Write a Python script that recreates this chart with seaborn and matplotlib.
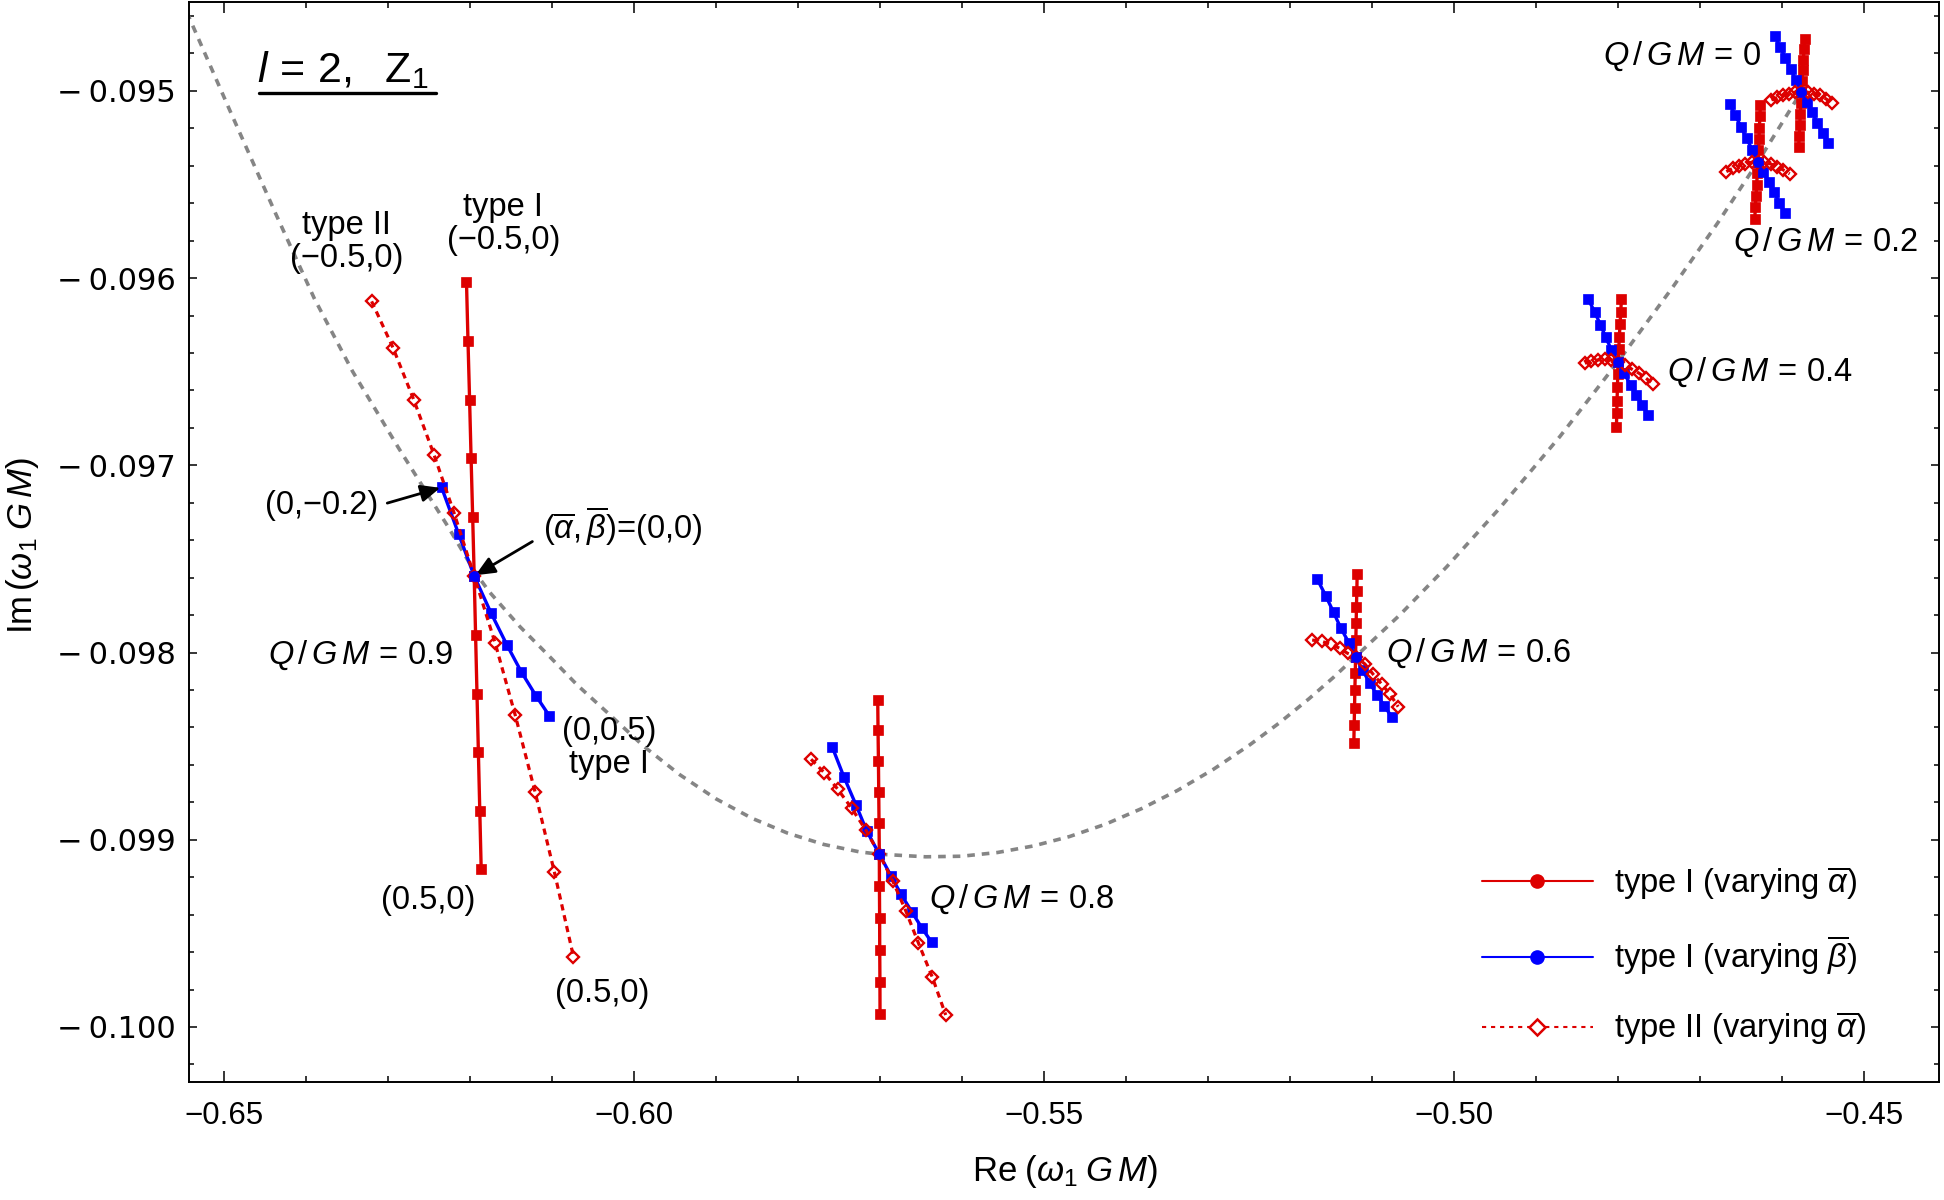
import matplotlib
matplotlib.use("Agg")
import matplotlib.pyplot as plt
from matplotlib.lines import Line2D
from matplotlib.ticker import MultipleLocator
import seaborn as sns

# ---- data (Re, Im of omega_1 GM) ----
# dotted gray track, Q/GM from ~0.97 down to 0
gray_x = [-0.6545, -0.649232, -0.643639, -0.638971, -0.634316, -0.628711, -0.622642, -0.619473,
          -0.617621, -0.613868, -0.610468, -0.606922, -0.603156, -0.598769, -0.594394, -0.590007,
          -0.585620, -0.581245, -0.576858, -0.572471, -0.570083, -0.564441, -0.560054, -0.555667,
          -0.551292, -0.546905, -0.542518, -0.538131, -0.533756, -0.529369, -0.524982, -0.521326,
          -0.517682, -0.514757, -0.512028, -0.506629, -0.500938, -0.494443, -0.487133, -0.480027,
          -0.473324, -0.467877, -0.462965, -0.457676]
gray_y = [-0.09458, -0.095107, -0.095659, -0.096108, -0.096497, -0.096906, -0.097329, -0.097564,
          -0.097676, -0.097863, -0.098013, -0.098173, -0.098324, -0.098502, -0.098653, -0.098781,
          -0.098885, -0.098965, -0.099025, -0.099065, -0.099077, -0.099091, -0.099088, -0.099068,
          -0.099033, -0.098983, -0.098917, -0.098834, -0.098737, -0.098624, -0.098495, -0.098376,
          -0.098246, -0.098134, -0.098022, -0.097799, -0.097543, -0.097228, -0.096847, -0.096446,
          -0.096046, -0.095705, -0.095378, -0.095004]

# Q/GM = 0.9
red_x_09 = [-0.620412, -0.620229, -0.620034, -0.619851, -0.619656, -0.619473, -0.619303, -0.619132,
            -0.618962, -0.618791, -0.618620]
red_y_09 = [-0.096020, -0.096336, -0.096649, -0.096963, -0.097278, -0.097591, -0.097906, -0.098221,
            -0.098533, -0.098845, -0.099158]
blue_x_09 = [-0.623447, -0.621350, -0.619473, -0.617439, -0.615489, -0.613746, -0.611955, -0.610298]
blue_y_09 = [-0.097118, -0.097369, -0.097591, -0.097787, -0.097959, -0.098102, -0.098230, -0.098339]
beta_09 = [-0.2, -0.1, 0.0, 0.1, 0.2, 0.3, 0.4, 0.5]
t2_x_09 = [-0.631977, -0.629369, -0.626846, -0.624373, -0.621911, -0.619473, -0.616915, -0.614478,
           -0.612041, -0.609689, -0.607373]
t2_y_09 = [-0.096124, -0.096372, -0.096649, -0.096943, -0.097256, -0.097591, -0.097950, -0.098333,
           -0.098746, -0.099174, -0.099624]

# Q/GM = 0.8
red_x_08 = [-0.570278, -0.570241, -0.570192, -0.570156, -0.570119, -0.570083, -0.570071, -0.570046,
            -0.570034, -0.570010, -0.569998]
red_y_08 = [-0.098253, -0.098413, -0.098579, -0.098743, -0.098912, -0.099077, -0.099247, -0.099419,
            -0.099589, -0.099758, -0.099931]
blue_x_08 = [-0.575811, -0.574385, -0.572923, -0.571619, -0.570083, -0.568658, -0.567439, -0.566135,
             -0.564916, -0.563698]
blue_y_08 = [-0.098506, -0.098666, -0.098814, -0.098953, -0.099077, -0.099193, -0.099291, -0.099384,
             -0.099470, -0.099548]
beta_08 = [-0.4, -0.3, -0.2, -0.1, 0.0, 0.1, 0.2, 0.3, 0.4, 0.5]
t2_x_08 = [-0.578406, -0.576785, -0.575152, -0.573446, -0.571740, -0.570083, -0.568450, -0.566866,
           -0.565330, -0.563624, -0.561991]
t2_y_08 = [-0.098570, -0.098642, -0.098730, -0.098832, -0.098948, -0.099077, -0.099220, -0.099379,
           -0.099550, -0.099734, -0.099936]

# Q/GM = 0.6
red_x_06 = [-0.511833, -0.511869, -0.511918, -0.511955, -0.511991, -0.512028, -0.512064, -0.512113,
            -0.512150, -0.512198, -0.512235]
red_y_06 = [-0.097580, -0.097669, -0.097755, -0.097843, -0.097933, -0.098022, -0.098111, -0.098200,
            -0.098294, -0.098387, -0.098484]
blue_x_06 = [-0.516708, -0.515647, -0.514708, -0.513819, -0.512844, -0.512028, -0.511175, -0.510285,
             -0.509395, -0.508542, -0.507640]
blue_y_06 = [-0.097607, -0.097698, -0.097785, -0.097870, -0.097947, -0.098022, -0.098093, -0.098164,
             -0.098226, -0.098284, -0.098342]
beta_06 = [-0.5, -0.4, -0.3, -0.2, -0.1, 0.0, 0.1, 0.2, 0.3, 0.4, 0.5]
t2_x_06 = [-0.517317, -0.516171, -0.515074, -0.513976, -0.513001, -0.512028, -0.510893, -0.509882,
           -0.508858, -0.507847, -0.506836]
t2_y_06 = [-0.097933, -0.097940, -0.097956, -0.097977, -0.098004, -0.098022, -0.098061, -0.098116,
           -0.098168, -0.098221, -0.098289]

# Q/GM = 0.4
red_x_04 = [-0.479612, -0.479698, -0.479783, -0.479868, -0.479941, -0.480027, -0.480063, -0.480100,
            -0.480149, -0.480185, -0.480222]
red_y_04 = [-0.096111, -0.096179, -0.096245, -0.096312, -0.096380, -0.096446, -0.096513, -0.096583,
            -0.096654, -0.096722, -0.096793]
blue_x_04 = [-0.483679, -0.482863, -0.482168, -0.481522, -0.480828, -0.480027, -0.479298, -0.478481,
             -0.477787, -0.477056, -0.476373]
blue_y_04 = [-0.096111, -0.096182, -0.096250, -0.096316, -0.096384, -0.096446, -0.096508, -0.096571,
             -0.096624, -0.096677, -0.096731]
beta_04 = [-0.5, -0.4, -0.3, -0.2, -0.1, 0.0, 0.1, 0.2, 0.3, 0.4, 0.5]
t2_x_04 = [-0.484081, -0.483270, -0.482459, -0.481648, -0.480838, -0.480027, -0.479174, -0.478321,
           -0.477468, -0.476615, -0.475762]
t2_y_04 = [-0.096454, -0.096443, -0.096437, -0.096433, -0.096437, -0.096446, -0.096464, -0.096487,
           -0.096508, -0.096535, -0.096565]

# Q/GM = 0.2
red_x_02 = [-0.462674, -0.462735, -0.462795, -0.462844, -0.462905, -0.462966, -0.463051, -0.463124,
            -0.463210, -0.463283, -0.463368]
red_y_02 = [-0.095075, -0.095135, -0.095196, -0.095256, -0.095317, -0.095378, -0.095439, -0.095500,
            -0.095561, -0.095622, -0.095684]
blue_x_02 = [-0.466423, -0.465718, -0.465035, -0.464340, -0.463658, -0.462965, -0.462319, -0.461661,
             -0.461015, -0.460357, -0.459711]
blue_y_02 = [-0.095069, -0.095131, -0.095192, -0.095254, -0.095316, -0.095378, -0.095432, -0.095487,
             -0.095541, -0.095596, -0.095650]
beta_02 = [-0.5, -0.4, -0.3, -0.2, -0.1, 0.0, 0.1, 0.2, 0.3, 0.4, 0.5]
t2_x_02 = [-0.466825, -0.466057, -0.465289, -0.464509, -0.463741, -0.462965, -0.462197, -0.461429,
           -0.460661, -0.459881, -0.459101]
t2_y_02 = [-0.095431, -0.095414, -0.095400, -0.095389, -0.095381, -0.095378, -0.095382, -0.095390,
           -0.095404, -0.095422, -0.095443]

# Q/GM = 0
red_x_00 = [-0.457275, -0.457360, -0.457433, -0.457519, -0.457592, -0.457677, -0.457738, -0.457811,
            -0.457872, -0.457945, -0.458006]
red_y_00 = [-0.094722, -0.094778, -0.094834, -0.094890, -0.094947, -0.095004, -0.095063, -0.095122,
            -0.095182, -0.095241, -0.095301]
blue_x_00 = [-0.460930, -0.460284, -0.459626, -0.458980, -0.458322, -0.457676, -0.457030, -0.456384,
             -0.455738, -0.455080, -0.454434]
blue_y_00 = [-0.094705, -0.094764, -0.094824, -0.094884, -0.094944, -0.095004, -0.095059, -0.095114,
             -0.095169, -0.095224, -0.095279]
beta_00 = [-0.5, -0.4, -0.3, -0.2, -0.1, 0.0, 0.1, 0.2, 0.3, 0.4, 0.5]
t2_x_00 = [-0.461334, -0.460603, -0.459872, -0.459140, -0.458409, -0.457676, -0.456921, -0.456165,
           -0.455410, -0.454654, -0.453898]
t2_y_00 = [-0.095048, -0.095035, -0.095023, -0.095014, -0.095007, -0.095004, -0.095007, -0.095014,
           -0.095024, -0.095043, -0.095066]

x_ticks = [-0.65, -0.60, -0.55, -0.50, -0.45]
y_ticks = [-0.095, -0.096, -0.097, -0.098, -0.099, -0.100]
legend_labels = [r"type I (varying $\overline{\alpha}$)",
                 r"type I (varying $\overline{\beta}$)",
                 r"type II (varying $\overline{\alpha}$)"]

# ---- style ----
red = "#dd0000"
blue = "#0000ff"
gray = "#858585"

sns.set_theme(style="ticks")
plt.rcParams["font.family"] = ["Liberation Sans", "DejaVu Sans"]
plt.rcParams["mathtext.fontset"] = "custom"
plt.rcParams["mathtext.rm"] = "Liberation Sans"
plt.rcParams["mathtext.it"] = "Liberation Sans:italic"
plt.rcParams["mathtext.bf"] = "Liberation Sans:bold"
plt.rcParams["lines.scale_dashes"] = False
plt.rcParams["axes.edgecolor"] = "black"
plt.rcParams["xtick.color"] = "black"
plt.rcParams["ytick.color"] = "black"
plt.rcParams["text.color"] = "black"
plt.rcParams["axes.labelcolor"] = "black"

fig = plt.figure(figsize=(19.44, 12), dpi=100)
fig.patch.set_facecolor("white")
ax = fig.add_axes([0.09697, 0.09833, 0.90046, 0.9])
ax.set_facecolor("white")


def draw(xs, ys, color, marker, ms, ls, lw, mfc, mew, z):
    sns.lineplot(x=xs, y=ys, ax=ax, sort=False, estimator=None, legend=False,
                 color=color, linestyle=ls, linewidth=lw, marker=marker, markersize=ms,
                 markerfacecolor=mfc, markeredgecolor=color, markeredgewidth=mew, zorder=z)


# gray track
draw(gray_x, gray_y, gray, None, 0, (0, (5.5, 5.0)), 2.6, gray, 0, 1)

sets = [
    (red_x_09, red_y_09, blue_x_09, blue_y_09, beta_09, t2_x_09, t2_y_09),
    (red_x_08, red_y_08, blue_x_08, blue_y_08, beta_08, t2_x_08, t2_y_08),
    (red_x_06, red_y_06, blue_x_06, blue_y_06, beta_06, t2_x_06, t2_y_06),
    (red_x_04, red_y_04, blue_x_04, blue_y_04, beta_04, t2_x_04, t2_y_04),
    (red_x_02, red_y_02, blue_x_02, blue_y_02, beta_02, t2_x_02, t2_y_02),
    (red_x_00, red_y_00, blue_x_00, blue_y_00, beta_00, t2_x_00, t2_y_00),
]

for rx, ry, bx, by, bb, tx, ty in sets:
    draw(rx, ry, red, "s", 6.8, "-", 2.4, red, 0.5, 2)
    draw(bx, by, blue, "s", 6.8, "-", 2.4, blue, 0.5, 3)
    draw(tx, ty, red, "D", 6.4, (0, (4.5, 3.5)), 2.3, "none", 1.7, 4)
    i0 = bb.index(0.0)
    sns.scatterplot(x=[bx[i0]], y=[by[i0]], ax=ax, color=blue, s=60, linewidth=0,
                    zorder=5, legend=False)

# ---- axes ----
ax.set_xlim(-0.6543, -0.4409)
ax.set_ylim(-0.100294, -0.094525)
ax.set_xticks(x_ticks)
ax.set_xticklabels([f"{v:.2f}".replace("-", "\u2212") for v in x_ticks])
ax.set_yticks(y_ticks)
ax.set_yticklabels([f"{v:.3f}".replace("-", "\u2212\u2009") for v in y_ticks])
ax.xaxis.set_minor_locator(MultipleLocator(0.01))
ax.yaxis.set_minor_locator(MultipleLocator(0.0002))
ax.tick_params(which="both", direction="in", top=True, right=True)
ax.tick_params(axis="x", which="major", length=8, width=1.1, labelsize=22.5, pad=14)
ax.tick_params(axis="x", which="minor", length=4.3, width=1.1)
ax.tick_params(axis="y", which="major", length=5.7, width=1.1, labelsize=22, pad=9)
ax.tick_params(axis="y", which="minor", length=3.6, width=1.1)
for lbl in ax.get_yticklabels():
    lbl.set_family("DejaVu Sans")
for sp in ax.spines.values():
    sp.set_linewidth(1.4)
    sp.set_color("black")

ax.set_xlabel(r"$\mathrm{Re}\;(\omega_1\;G\,M)$", fontsize=25, va="center")
ax.xaxis.set_label_coords(0.5007, -0.0833)
ax.set_ylabel(r"$\mathrm{Im}\,(\omega_1\;G\,M)$", fontsize=25, va="center")
ax.yaxis.set_label_coords(-0.0951, 0.497)

# ---- title block ----
ax.text(0.0883, 0.926, r"$l\,=\,2,\ \ \mathrm{Z}_1$", transform=ax.transAxes,
        ha="center", va="baseline", fontsize=31)
ax.add_line(Line2D([0.040, 0.1414], [0.9157, 0.9157], transform=ax.transAxes,
                   color="black", lw=2.4, clip_on=False))

# ---- annotations ----
fs = 23.5
ax.text(-0.635072, -0.095807, "type II\n(\u22120.5,0)", ha="center", va="center", fontsize=fs,
        linespacing=1.1)
ax.text(-0.615937, -0.095710, "type I\n(\u22120.5,0)", ha="center", va="center", fontsize=fs,
        linespacing=1.1)
ax.text(-0.602986, -0.098510, "(0,0.5)\ntype I", ha="center", va="center", fontsize=fs,
        linespacing=1.1)
ax.text(-0.625043, -0.099322, "(0.5,0)", ha="center", va="center", fontsize=fs)
ax.text(-0.603912, -0.099820, "(0.5,0)", ha="center", va="center", fontsize=fs)

arrow = dict(arrowstyle="-|>,head_length=0.5,head_width=0.22", color="black", lw=2.0,
             shrinkA=4, shrinkB=1)
ax.annotate("(0,\u22120.2)", xy=(blue_x_09[0], blue_y_09[0]), xytext=(-0.638021, -0.097215),
            ha="center", va="center", fontsize=fs, arrowprops=dict(arrow, relpos=(1.0, 0.5)))
i0 = beta_09.index(0.0)
ax.annotate(r"$(\overline{\alpha},\overline{\beta})$=(0,0)", xy=(blue_x_09[i0], blue_y_09[i0]),
            xytext=(-0.601377, -0.097328), ha="center", va="center", fontsize=fs,
            arrowprops=dict(arrow, relpos=(0.0, 0.3), shrinkA=6))

q_label = r"$Q\,/\,G\,M\,=\,{}$"
ax.text(-0.621996, -0.098013, q_label.format("0.9"), ha="right", va="center", fontsize=fs)
ax.text(-0.563990, -0.099318, q_label.format("0.8"), ha="left", va="center", fontsize=fs)
ax.text(-0.508335, -0.098005, q_label.format("0.6"), ha="left", va="center", fontsize=fs)
ax.text(-0.474031, -0.096501, q_label.format("0.4"), ha="left", va="center", fontsize=fs)
ax.text(-0.466049, -0.095809, q_label.format("0.2"), ha="left", va="center", fontsize=fs)
ax.text(-0.462565, -0.094813, q_label.format("0"), ha="right", va="center", fontsize=fs)

# ---- legend ----
handles = [
    Line2D([], [], color=red, lw=1.5, marker="o", ms=9.5, mfc=red, mec=red),
    Line2D([], [], color=blue, lw=1.5, marker="o", ms=9.5, mfc=blue, mec=blue),
    Line2D([], [], color=red, lw=1.5, ls=(0, (3, 3.5)), marker="D", ms=8.5, mfc="white",
           mec=red, mew=1.8),
]
ax.legend(handles, legend_labels, loc="center left", bbox_to_anchor=(0.7388, 0.1168),
          frameon=False, fontsize=23.5, handlelength=3.4, handletextpad=0.65,
          labelspacing=1.0, borderpad=0, borderaxespad=0)

fig.savefig("out.png", dpi=100, facecolor="white")
